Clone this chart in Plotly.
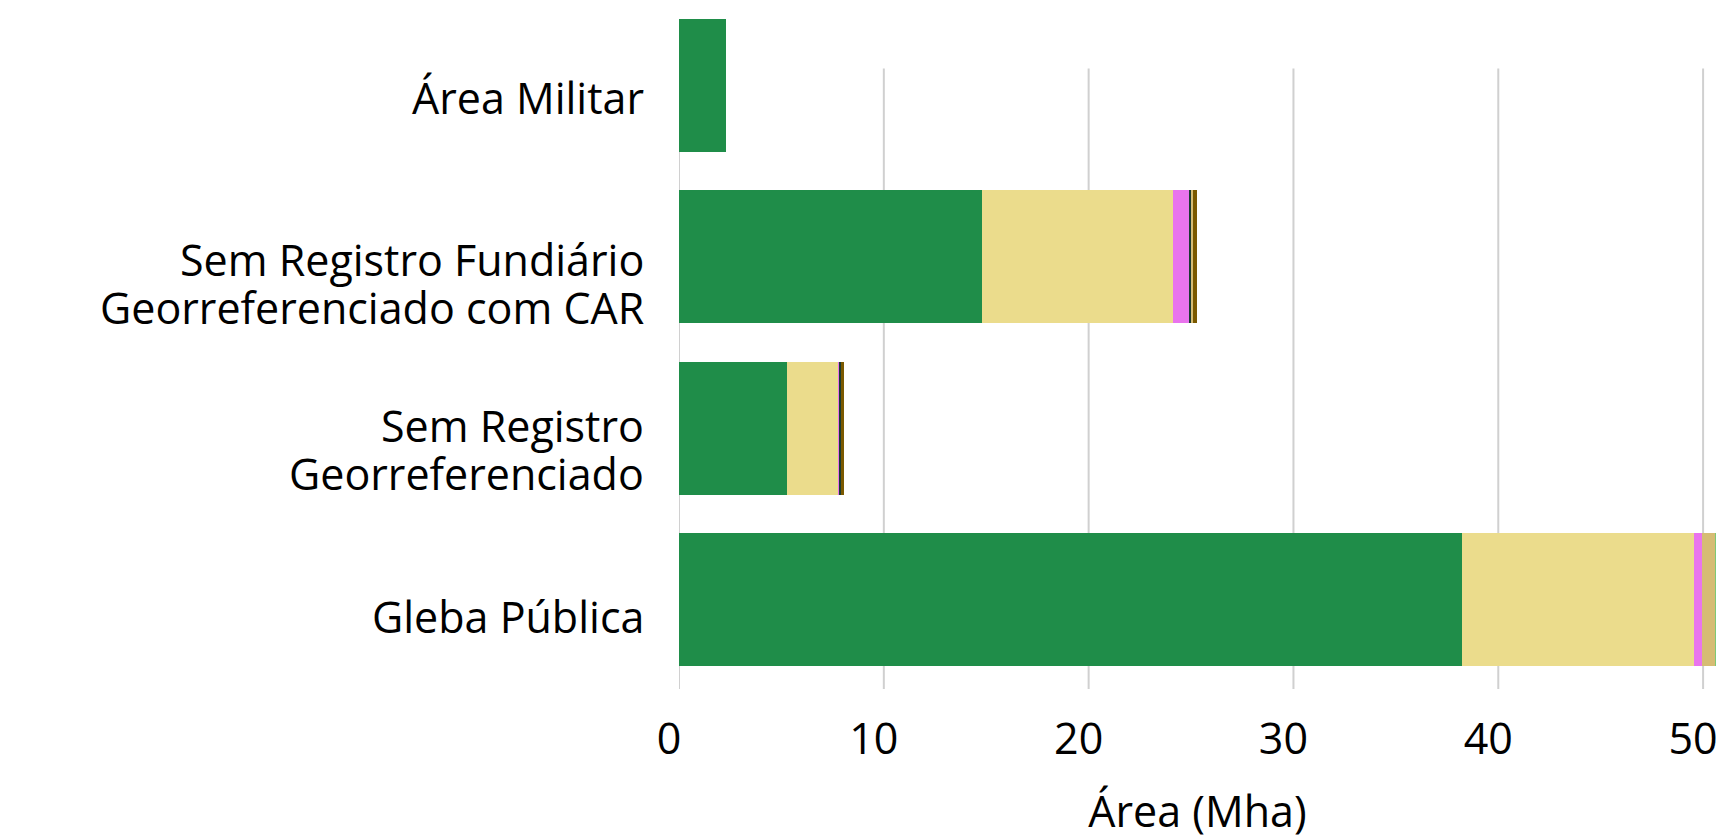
import plotly.graph_objects as go

# Land tenure categories (bottom to top on the chart)
categories = [
    "Gleba Pública",
    "Sem Registro Georreferenciado",
    "Sem Registro Fundiário Georreferenciado com CAR",
    "Área Militar",
]
# Wrapped label lines for each category
category_lines = [
    ["Gleba Pública"],
    ["Sem Registro", "Georreferenciado"],
    ["Sem Registro Fundiário", "Georreferenciado com CAR"],
    ["Área Militar"],
]

# Land-cover classes stacked inside each bar (area in Mha)
classes = [
    "Formação Florestal",
    "Pastagem",
    "Agricultura",
    "Floresta Alagável",
    "Formação Campestre",
    "Silvicultura",
    "Formação Savânica",
]
colors = ["#1f8d49", "#ebdc8c", "#e974ed", "#1b3b33", "#d6bc74", "#7a5900", "#7dc975"]

floresta = [38.23, 5.27, 14.78, 2.30]
pastagem = [11.31, 2.54, 9.33, 0.0]
agricultura = [0.39, 0.05, 0.81, 0.0]
alagavel = [0.0, 0.06, 0.11, 0.0]
campestre = [0.63, 0.0, 0.08, 0.0]
silvicultura = [0.0, 0.12, 0.16, 0.0]
savanica = [0.60, 0.0, 0.0, 0.0]

series = [floresta, pastagem, agricultura, alagavel, campestre, silvicultura, savanica]

x_ticks = [0, 10, 20, 30, 40, 50]

FONT = "Open Sans"
SIZE = 43
LINE_STEP = 48                  # px between wrapped label lines
LABEL_DROP = [17, 21, 27, 12]   # downward offset of each label block from its bar centre

fig = go.Figure()
for name, color, values in zip(classes, colors, series):
    fig.add_trace(go.Bar(
        y=categories,
        x=values,
        name=name,
        orientation="h",
        marker=dict(color=color, line=dict(width=0)),
        showlegend=False,
    ))

# Vertical reference lines behind the bars
for t in x_ticks:
    fig.add_shape(
        type="line", xref="x", yref="paper",
        x0=t, x1=t, y0=-0.006, y1=0.9,
        line=dict(color="#d0d0d0", width=2),
        layer="below",
    )

# Category labels, one text line per annotation
for cat, lines, drop in zip(categories, category_lines, LABEL_DROP):
    n = len(lines)
    for i, line in enumerate(lines):
        fig.add_annotation(
            x=0, xref="paper", y=cat, yref="y",
            text=line, showarrow=False,
            xanchor="right", yanchor="middle",
            xshift=-33,
            yshift=-drop - (i - (n - 1) / 2) * LINE_STEP,
            font=dict(family=FONT, size=SIZE, color="#000000"),
        )

fig.update_layout(
    width=1716,
    height=840,
    barmode="stack",
    bargap=0.224,
    plot_bgcolor="white",
    paper_bgcolor="white",
    margin=dict(l=679, r=0, t=0, b=155, autoexpand=False),
    font=dict(family=FONT, size=SIZE, color="#000000"),
    xaxis=dict(
        range=[0, 50.63],
        tickvals=x_ticks,
        automargin=False,
        showgrid=False,
        zeroline=False,
        showline=False,
        ticks="",
        ticklabelstandoff=25,
        ticklabelshift=-10,
        ticklabeloverflow="allow",
        tickfont=dict(size=SIZE),
        title=dict(text="Área (Mha)", font=dict(size=SIZE), standoff=38),
    ),
    yaxis=dict(
        categoryorder="array",
        categoryarray=categories,
        range=[-0.5, 3.5],
        automargin=False,
        showgrid=False,
        zeroline=False,
        showline=False,
        showticklabels=False,
        ticks="",
    ),
)

fig.write_html("out.html")
